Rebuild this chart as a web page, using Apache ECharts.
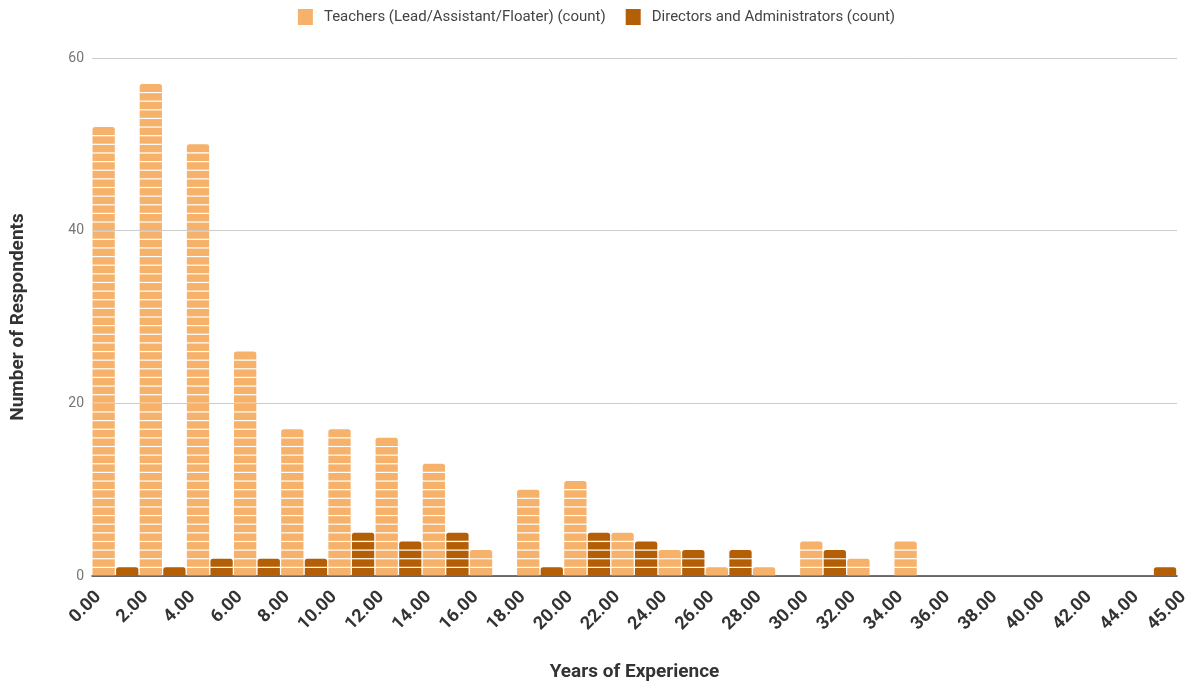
<!DOCTYPE html>
<html>
<head>
<meta charset="utf-8">
<script src="https://cdn.jsdelivr.net/npm/echarts@6/dist/echarts.min.js"></script>
<style>
html,body{margin:0;padding:0;background:#fff;}
#chart{width:1193px;height:683px;}
</style>
</head>
<body>
<div id="chart"></div>
<script>
// Bucket boundary labels (24 boundaries for 23 buckets)
const tickLabels = ['0.00','2.00','4.00','6.00','8.00','10.00','12.00','14.00','16.00','18.00','20.00','22.00','24.00','26.00','28.00','30.00','32.00','34.00','36.00','38.00','40.00','42.00','44.00','45.00'];
// Counts per bucket (bucket index 0..22)
const teachers  = [52,57,50,26,17,17,16,13,3,10,11,5,3,1,1,4,2,4,0,0,0,0,0];
const directors = [1,1,2,2,2,5,4,5,0,1,5,4,3,3,0,3,0,0,0,0,0,0,1];
const seriesNames = ['Teachers (Lead/Assistant/Floater) (count)','Directors and Administrators (count)'];
const colors = ['#f6b26b','#b45f06'];

function makeRender(offset, color){
  return function(params, api){
    const k = api.value(0);
    const v = api.value(1);
    const xl = api.coord([k + offset, 0])[0] + 0.5;
    const xr = api.coord([k + offset + 0.5, 0])[0] - 0.8;
    const children = [];
    for (let i = 0; i < v; i++){
      const yb = api.coord([k, i])[1];
      const yt = api.coord([k, i + 1])[1];
      const top = (i === v - 1);
      children.push({
        type: 'rect',
        shape: {x: xl, y: yt + (top ? 0 : 0.6), width: xr - xl, height: yb - yt - (top ? 0.6 : 1.2) , r: top ? [2.5,2.5,0,0] : 0},
        style: {fill: color}
      });
    }
    return {type: 'group', children: children};
  };
}

const chart = echarts.init(document.getElementById('chart'));
chart.setOption({
  animation: false,
  textStyle: {fontFamily: 'Roboto'},
  legend: {
    top: 4, left: 'center',
    itemWidth: 15, itemHeight: 16, itemGap: 20,
    icon: 'rect',
    textStyle: {fontSize: 15, color: '#444', fontFamily: 'Roboto', padding: [0, 0, 0, 6]},
    data: seriesNames
  },
  grid: {left: 92, right: 16, top: 58, bottom: 107, containLabel: false, outerBoundsMode: 'none'},
  xAxis: {
    type: 'value', min: 0, max: tickLabels.length - 1, interval: 1,
    name: 'Years of Experience', nameLocation: 'middle', nameGap: 87,
    nameTextStyle: {fontSize: 19, fontWeight: 'bold', color: '#333', fontFamily: 'Roboto'},
    axisLine: {show: true, onZero: false, lineStyle: {color: '#444', width: 1.5}},
    axisTick: {show: false},
    splitLine: {show: false},
    axisLabel: {
      rotate: 45, fontSize: 18, color: '#333', margin: 12, fontWeight: 'bold', verticalAlign: 'top',
      formatter: function(v){ return tickLabels[Math.round(v)] || ''; }
    }
  },
  yAxis: {
    type: 'value', min: 0, max: 60, interval: 20,
    name: 'Number of Respondents', nameLocation: 'middle', nameGap: 64, nameRotate: 90,
    nameTextStyle: {fontSize: 19, fontWeight: 'bold', color: '#333', fontFamily: 'Roboto'},
    axisLine: {show: false}, axisTick: {show: false},
    axisLabel: {fontSize: 14, color: '#757575', margin: 8},
    splitLine: {lineStyle: {color: '#cccccc', width: 1}}
  },
  series: [
    {
      name: seriesNames[0], type: 'custom',
      itemStyle: {color: colors[0]},
      renderItem: makeRender(0, colors[0]),
      encode: {x: 0, y: 1},
      data: teachers.map((v, i) => [i, v])
    },
    {
      name: seriesNames[1], type: 'custom',
      itemStyle: {color: colors[1]},
      renderItem: makeRender(0.5, colors[1]),
      encode: {x: 0, y: 1},
      data: directors.map((v, i) => [i, v])
    }
  ]
});
</script>
</body>
</html>
